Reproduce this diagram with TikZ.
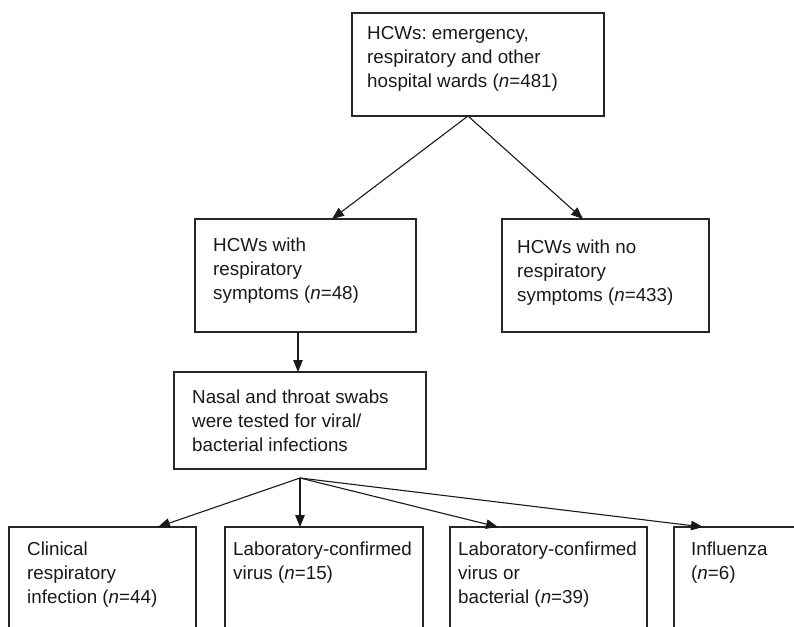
\documentclass[tikz,border=0pt]{standalone}
\usepackage{fontspec}
\setmainfont{Liberation Sans}
\usetikzlibrary{arrows.meta}
\frenchspacing

\begin{document}
\begin{tikzpicture}[x=1pt,y=-1pt,
  box/.style={draw=black!85,line width=1.2pt,anchor=north west,inner sep=0pt,outer sep=0pt},
  txt/.style={anchor=north west,align=left,inner sep=0pt,text=black!90,
    font=\fontsize{18.8}{24}\selectfont},
  arr/.style={-{Triangle[length=12pt,width=9.5pt]},line width=1.1pt,draw=black!90}]

\clip (0,0) rectangle (794,626);

\node[box,minimum width=252pt,minimum height=103pt] (top) at (352,13) {};
\node[box,minimum width=221pt,minimum height=113pt] (sym) at (195,219) {};
\node[box,minimum width=207pt,minimum height=113pt] (nosym) at (502,219) {};
\node[box,minimum width=252pt,minimum height=97pt] (swab) at (174,372) {};

\node[box,minimum width=187pt,minimum height=120pt] (clin) at (9,527) {};
\node[box,minimum width=198pt,minimum height=120pt] (lab) at (225,527) {};
\node[box,minimum width=197pt,minimum height=120pt] (labb) at (450,527) {};
\node[box,minimum width=150pt,minimum height=120pt] (flu) at (674,527) {};

\node[txt] (topt) at ([xshift=15pt,yshift=-9.2pt]top.north west)
  {\strut HCWs: emergency,\\respiratory and other\\hospital wards (\textit{n}=481)};
\node[txt] (symt) at ([xshift=18pt,yshift=-15pt]sym.north west)
  {\strut HCWs with\\respiratory\\symptoms (\textit{n}=48)};
\node[txt] (nosymt) at ([xshift=15pt,yshift=-17pt]nosym.north west)
  {\strut HCWs with no\\respiratory\\symptoms (\textit{n}=433)};
\node[txt] (swabt) at ([xshift=18pt,yshift=-14.2pt]swab.north west)
  {\strut Nasal and throat swabs\\were tested for viral/\\bacterial infections};

\node[txt] (clint) at ([xshift=18pt,yshift=-11.2pt]clin.north west)
  {\strut Clinical\\respiratory\\infection (\textit{n}=44)};
\node[txt] (labt) at ([xshift=8pt,yshift=-11.2pt]lab.north west)
  {\strut Laboratory-confirmed\\virus (\textit{n}=15)};
\node[txt] (labbt) at ([xshift=8pt,yshift=-11.2pt]labb.north west)
  {\strut Laboratory-confirmed\\virus or\\bacterial (\textit{n}=39)};
\node[txt] (flut) at ([xshift=17pt,yshift=-11.2pt]flu.north west)
  {\strut Influenza\\(\textit{n}=6)};

\coordinate (fan) at ([xshift=126pt,yshift=-9pt]swab.south west);

\draw[arr] ([xshift=116pt]top.south west) -- ([xshift=137pt]sym.north west);
\draw[arr] ([xshift=116pt]top.south west) -- ([xshift=81pt]nosym.north west);
\draw[arr] ([xshift=103pt]sym.south west) -- ([xshift=124pt]swab.north west);

\draw[arr] (fan) -- ([xshift=149pt]clin.north west);
\draw[arr] (fan) -- ([xshift=75pt]lab.north west);
\draw[arr] (fan) -- ([xshift=48pt]labb.north west);
\draw[arr] (fan) -- ([xshift=29pt]flu.north west);

\end{tikzpicture}
\end{document}
